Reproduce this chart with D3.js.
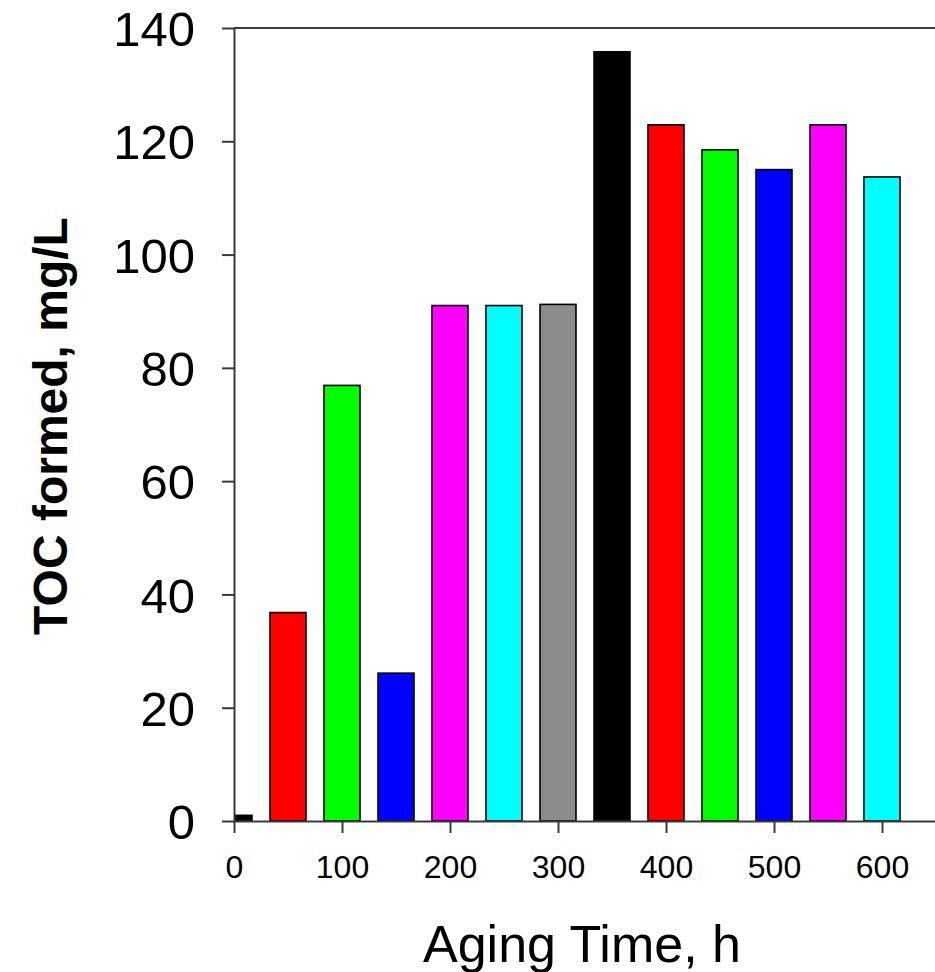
<!DOCTYPE html>
<html>
<head>
<meta charset="utf-8">
<script src="https://cdn.jsdelivr.net/npm/d3@7"></script>
<style>
  html, body { margin: 0; padding: 0; background: #fff; }
  svg { display: block; }
  text { font-family: Arial, "Liberation Sans", sans-serif; }
</style>
</head>
<body>
<svg id="chart" width="935" height="972"></svg>
<script>
const times = [0, 50, 100, 150, 200, 250, 300, 350, 400, 450, 500, 550, 600];
const tocValues = [1.0, 36.8, 76.9, 26.1, 91.0, 91.0, 91.2, 135.8, 122.9, 118.5, 115.0, 122.9, 113.7];
const barColors = ["#000000", "#ff0000", "#00ff00", "#0000ff", "#ff00ff", "#00ffff", "#8c8c8c"];
const xTicks = [0, 100, 200, 300, 400, 500, 600];
const yTicks = [0, 20, 40, 60, 80, 100, 120, 140];
const xTitle = "Aging Time, h";
const yTitle = "TOC formed, mg/L";
const barWidthHours = 33.3;

(function () {
const svg = d3.select("#chart");
const pLeft = 234, pRight = 936, pTop = 28, pBottom = 821;

const x = d3.scaleLinear().domain([0, 650]).range([pLeft, pRight]);
const y = d3.scaleLinear().domain([0, 140]).range([pBottom, pTop]);

svg.append("defs").append("clipPath").attr("id", "plotclip")
  .append("rect").attr("x", pLeft).attr("y", pTop).attr("width", pRight - pLeft).attr("height", pBottom - pTop);

// bars
svg.append("g").attr("clip-path", "url(#plotclip)")
  .selectAll("rect").data(times).join("rect")
  .attr("x", (d) => x(d - barWidthHours / 2))
  .attr("width", x(barWidthHours) - x(0))
  .attr("y", (d, i) => y(tocValues[i]))
  .attr("height", (d, i) => y(0) - y(tocValues[i]))
  .attr("fill", (d, i) => barColors[i % barColors.length])
  .attr("stroke", "#000")
  .attr("stroke-width", 1.6);

const axisColor = "#3a3a3a";

// frame top & right
svg.append("line").attr("x1", pLeft).attr("x2", pRight).attr("y1", pTop).attr("y2", pTop)
  .attr("stroke", axisColor).attr("stroke-width", 2);
svg.append("line").attr("x1", pRight).attr("x2", pRight).attr("y1", pTop).attr("y2", pBottom)
  .attr("stroke", axisColor).attr("stroke-width", 2);

// y axis
const yAxis = svg.append("g").attr("transform", `translate(${pLeft},0)`)
  .call(d3.axisLeft(y).tickValues(yTicks).tickSize(12).tickSizeOuter(0).tickPadding(27));
yAxis.select(".domain").attr("stroke", axisColor).attr("stroke-width", 2);
yAxis.selectAll(".tick line").attr("stroke", axisColor).attr("stroke-width", 2);
yAxis.selectAll(".tick text").attr("fill", "#000").style("font-size", "49px")
  .style("font-family", "Arial, 'Liberation Sans', sans-serif").attr("dy", "0.36em");

// x axis
const xAxis = svg.append("g").attr("transform", `translate(0,${pBottom})`)
  .call(d3.axisBottom(x).tickValues(xTicks).tickSize(12).tickSizeOuter(0).tickPadding(22));
xAxis.select(".domain").attr("stroke", axisColor).attr("stroke-width", 2);
xAxis.selectAll(".tick line").attr("stroke", axisColor).attr("stroke-width", 2);
xAxis.selectAll(".tick text").attr("fill", "#000").style("font-size", "32px")
  .style("font-family", "Arial, 'Liberation Sans', sans-serif");

// titles
svg.append("text").attr("x", 582).attr("y", 962).attr("text-anchor", "middle")
  .style("font-size", "52px").attr("fill", "#000").text(xTitle);
svg.append("text").attr("transform", "translate(67,426) rotate(-90)").attr("text-anchor", "middle")
  .style("font-size", "48px").style("font-weight", "bold").attr("fill", "#000").text(yTitle);
})();
</script>
</body>
</html>
